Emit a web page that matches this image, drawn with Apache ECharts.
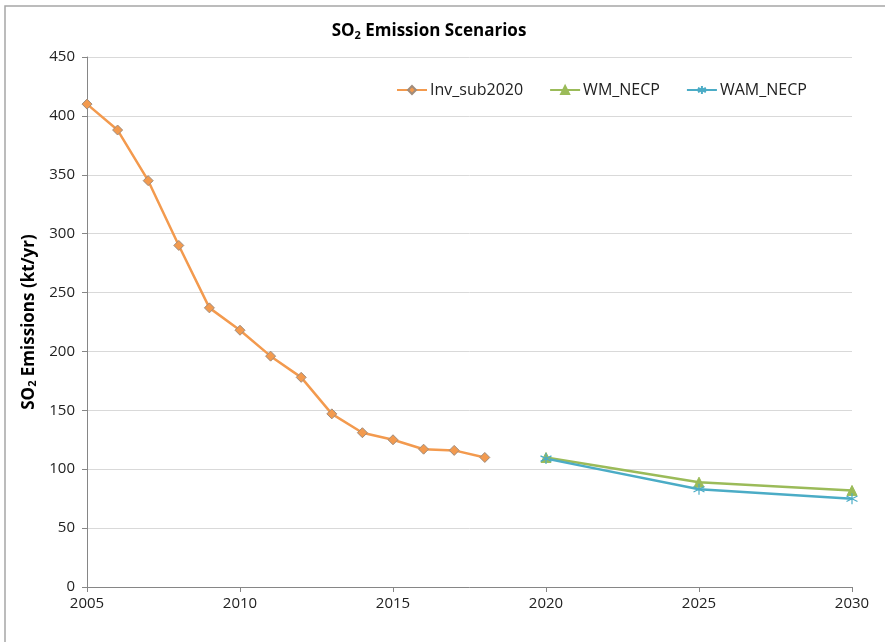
<!DOCTYPE html>
<html>
<head>
<meta charset="UTF-8">
<title>SO2 Emission Scenarios</title>
<script src="https://cdn.jsdelivr.net/npm/echarts@6/dist/echarts.min.js"></script>
<style>
  body { margin: 0; background: #fff; }
  #root { width: 885px; height: 642px; }
</style>
</head>
<body>
<div id="root"></div>
<script>
// values
var invYears = [2005, 2006, 2007, 2008, 2009, 2010, 2011, 2012, 2013, 2014, 2015, 2016, 2017, 2018];
var invValues = [410, 388, 345, 290, 237, 218, 196, 178, 147, 131, 125, 117, 116, 110];
var necpYears = [2020, 2025, 2030];
var wmValues = [110, 89, 82];
var wamValues = [109, 83, 75];
var seriesNames = ['Inv_sub2020', 'WM_NECP', 'WAM_NECP'];

function pairs(xs, ys) {
  return xs.map(function (x, i) { return [x, ys[i]]; });
}

var font = '"Open Sans", sans-serif';
var asterisk = 'path://M0,-5L0,5M-4.33,-2.5L4.33,2.5M-4.33,2.5L4.33,-2.5';
var subRich = {
  a: { fontFamily: font, fontWeight: 'bold', fontSize: 17, color: '#000' },
  s: { fontFamily: font, fontWeight: 'bold', fontSize: 11, color: '#000', padding: [8, 0, 0, 0] }
};

var chart = echarts.init(document.getElementById('root'));
chart.setOption({
  backgroundColor: '#fff',
  animation: false,
  textStyle: { fontFamily: font },
  graphic: [{
    type: 'rect',
    shape: { x: 5, y: 6, width: 900, height: 700 },
    style: { fill: 'none', stroke: '#a6a6a6', lineWidth: 1.5 },
    silent: true
  }],
  title: {
    text: '{a|SO}{s|2}{a| Emission Scenarios}',
    left: 424,
    textAlign: 'center',
    top: 17,
    textStyle: { rich: subRich }
  },
  legend: {
    data: seriesNames,
    left: 391,
    top: 77,
    itemWidth: 30,
    itemHeight: 10,
    itemGap: 26,
    textStyle: { fontFamily: font, fontSize: 16, color: '#222', padding: [0, 0, 0, -2] }
  },
  grid: { left: 87, right: 33, top: 57, bottom: 55 },
  xAxis: {
    type: 'value',
    min: 2005,
    max: 2030,
    interval: 5,
    axisLine: { lineStyle: { color: '#868686' } },
    axisTick: { length: 5, lineStyle: { color: '#868686' } },
    splitLine: { show: false },
    axisLabel: {
      fontFamily: font, fontSize: 15, color: '#222', margin: 9,
      formatter: function (v) { return String(v); }
    }
  },
  yAxis: {
    type: 'value',
    min: 0,
    max: 450,
    interval: 50,
    name: '{a|SO}{s|2}{a| Emissions (kt/yr)}',
    nameLocation: 'middle',
    nameGap: 42,
    nameRotate: 90,
    nameTextStyle: { rich: subRich },
    axisLine: { show: true, lineStyle: { color: '#868686' } },
    axisTick: { show: true, length: 5, lineStyle: { color: '#868686' } },
    splitLine: { lineStyle: { color: '#d9d9d9' } },
    axisLabel: { fontFamily: font, fontSize: 15, color: '#222', margin: 12 }
  },
  series: [{
    name: seriesNames[0],
    type: 'line',
    data: pairs(invYears, invValues),
    symbol: 'diamond',
    symbolSize: 10,
    lineStyle: { color: '#f39a4e', width: 2.5 },
    itemStyle: { color: '#f39a4e', borderColor: '#a08c7c', borderWidth: 1 }
  }, {
    name: seriesNames[1],
    type: 'line',
    data: pairs(necpYears, wmValues),
    symbol: 'triangle',
    symbolSize: 10,
    lineStyle: { color: '#9bbb59', width: 2.5 },
    itemStyle: { color: '#9bbb59', borderColor: '#9bbb59', borderWidth: 1 }
  }, {
    name: seriesNames[2],
    type: 'line',
    data: pairs(necpYears, wamValues),
    symbol: asterisk,
    symbolSize: 11,
    lineStyle: { color: '#4bacc6', width: 2.5 },
    itemStyle: { color: '#4bacc6', borderColor: '#4bacc6', borderWidth: 1.2 }
  }]
});
</script>
</body>
</html>
